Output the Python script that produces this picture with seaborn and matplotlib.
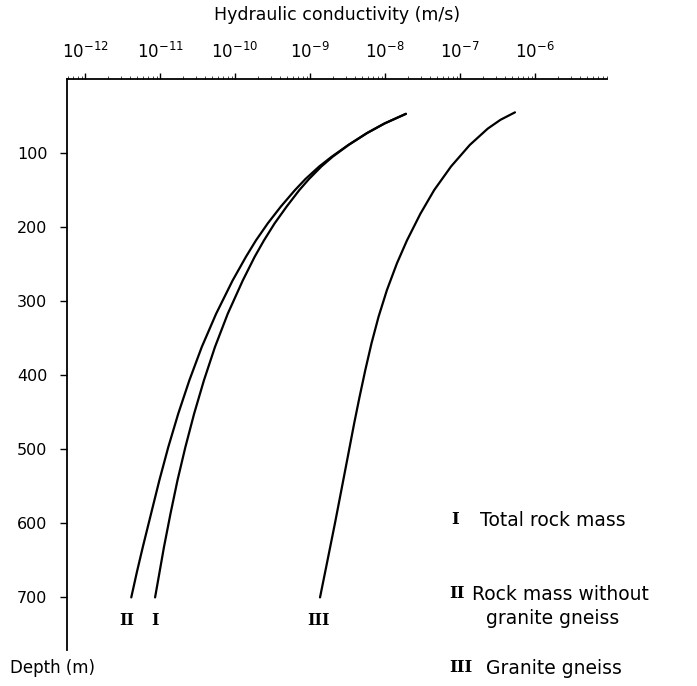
import numpy as np
import pandas as pd
import matplotlib
matplotlib.use("Agg")
import matplotlib.pyplot as plt
import matplotlib.ticker as mticker
import seaborn as sns

# Data (hydraulic conductivity in m/s vs depth in m)
depth_I = [47, 60, 73, 89, 105, 118, 135, 150, 172, 195, 218, 240, 272, 317,
           362, 407, 452, 497, 542, 587, 632, 665, 700]
k_I = [1.9e-8, 9.86e-9, 5.75e-9, 3.27e-9, 2.0e-9, 1.42e-9, 9.7e-10, 7.2e-10,
       4.9e-10, 3.37e-10, 2.43e-10, 1.83e-10, 1.27e-10, 8.0e-11, 5.4e-11,
       3.85e-11, 2.85e-11, 2.18e-11, 1.71e-11, 1.38e-11, 1.13e-11, 9.9e-12,
       8.6e-12]

depth_II = [47, 60, 73, 89, 105, 118, 135, 150, 172, 195, 218, 240, 272, 317,
            362, 407, 452, 497, 542, 587, 632, 665, 700]
k_II = [1.9e-8, 9.86e-9, 5.75e-9, 3.25e-9, 1.94e-9, 1.33e-9, 8.7e-10, 6.3e-10,
        4.1e-10, 2.73e-10, 1.9e-10, 1.4e-10, 9.3e-11, 5.6e-11, 3.6e-11,
        2.46e-11, 1.75e-11, 1.29e-11, 9.8e-12, 7.6e-12, 5.9e-12, 4.94e-12,
        4.14e-12]

depth_III = [45, 55, 67, 89, 118, 150, 182, 218, 249, 285, 321, 357, 393,
             430, 465, 510, 555, 600, 654, 700]
k_III = [5.4e-7, 3.47e-7, 2.34e-7, 1.35e-7, 7.6e-8, 4.52e-8, 2.96e-8, 1.96e-8,
         1.44e-8, 1.06e-8, 8.2e-9, 6.6e-9, 5.46e-9, 4.56e-9, 3.88e-9, 3.19e-9,
         2.62e-9, 2.15e-9, 1.68e-9, 1.36e-9]

series_names = ["I", "II", "III"]
legend_labels = ["Total rock mass", "Rock mass without", "granite gneiss", "Granite gneiss"]
x_tick_exponents = [-12, -11, -10, -9, -8, -7, -6]
y_ticks = [100, 200, 300, 400, 500, 600, 700]

df = pd.concat([
    pd.DataFrame({"depth": depth_I, "K": k_I, "series": "I"}),
    pd.DataFrame({"depth": depth_II, "K": k_II, "series": "II"}),
    pd.DataFrame({"depth": depth_III, "K": k_III, "series": "III"}),
])

sns.set_theme(style="white")
plt.rcParams["font.family"] = ["DejaVu Sans"]
plt.rcParams["mathtext.fontset"] = "dejavusans"
plt.rcParams["text.color"] = "black"
plt.rcParams["axes.labelcolor"] = "black"

fig = plt.figure(figsize=(6.97, 6.86), dpi=100)
ax = fig.add_axes([0.0961, 0.0525, 0.7744, 0.8323])

for name in series_names:
    sub = df[df["series"] == name]
    sns.lineplot(data=sub, x="K", y="depth", sort=False, estimator=None,
                 color="black", linewidth=1.6, ax=ax)

ax.set_xscale("log")
ax.set_xlim(10 ** -12.24, 10 ** -5.044)
ax.set_ylim(771, 0)

ax.xaxis.tick_top()
ax.xaxis.set_label_position("top")
ax.set_xticks([10.0 ** e for e in x_tick_exponents])
ax.set_xticklabels([r"$10^{%d}$" % e for e in x_tick_exponents], fontsize=12)
ax.xaxis.set_minor_locator(mticker.LogLocator(base=10, subs=np.arange(2, 10), numticks=20))
ax.xaxis.set_minor_formatter(mticker.NullFormatter())
ax.tick_params(axis="x", which="major", direction="out", length=4, width=1,
               pad=8, colors="black", top=True, bottom=False)
ax.tick_params(axis="x", which="minor", direction="out", length=2, width=0.6,
               top=True, bottom=False)

ax.set_yticks(y_ticks)
ax.set_yticklabels([str(v) for v in y_ticks], fontsize=11.5)
ax.tick_params(axis="y", which="major", direction="out", length=5, width=1,
               pad=9, colors="black", left=True)

ax.set_xlabel("Hydraulic conductivity (m/s)", fontsize=12.5, labelpad=16, color="black")
ax.set_ylabel("")
for s in ["bottom", "right"]:
    ax.spines[s].set_visible(False)
for s in ["top", "left"]:
    ax.spines[s].set_color("black")
    ax.spines[s].set_linewidth(1.3)
ax.grid(False)
leg = ax.get_legend()
if leg is not None:
    leg.remove()

# Roman numerals below the curve ends
roman_font = dict(family="DejaVu Serif", fontweight="bold", fontsize=11.5,
                  ha="center", va="center", color="black")
ax.text(k_I[-1], 731, "I", **roman_font)
ax.text(k_II[-1] * 0.87, 731, "II", **roman_font)
ax.text(k_III[-1] * 0.95, 731, "III", **roman_font)

# Legend-like annotations at right
def fx(px):
    return px / 697.0

def fy(py):
    return 1 - py / 686.0

num_font = dict(family="DejaVu Serif", fontweight="bold", fontsize=12,
                ha="left", va="center", color="black")
txt_font = dict(fontsize=13.5, ha="left", va="center", color="black")
fig.text(fx(451), fy(520), "I", **num_font)
fig.text(fx(480), fy(520), legend_labels[0], **txt_font)
fig.text(fx(449), fy(594), "II", **num_font)
fig.text(fx(472), fy(594), legend_labels[1], **txt_font)
fig.text(fx(486), fy(619), legend_labels[2], **txt_font)
fig.text(fx(449), fy(668), "III", **num_font)
fig.text(fx(486), fy(668), legend_labels[3], **txt_font)

fig.text(fx(10), fy(668), "Depth (m)", fontsize=12, ha="left", va="center", color="black")

fig.savefig("out.png", dpi=100, facecolor="white")
